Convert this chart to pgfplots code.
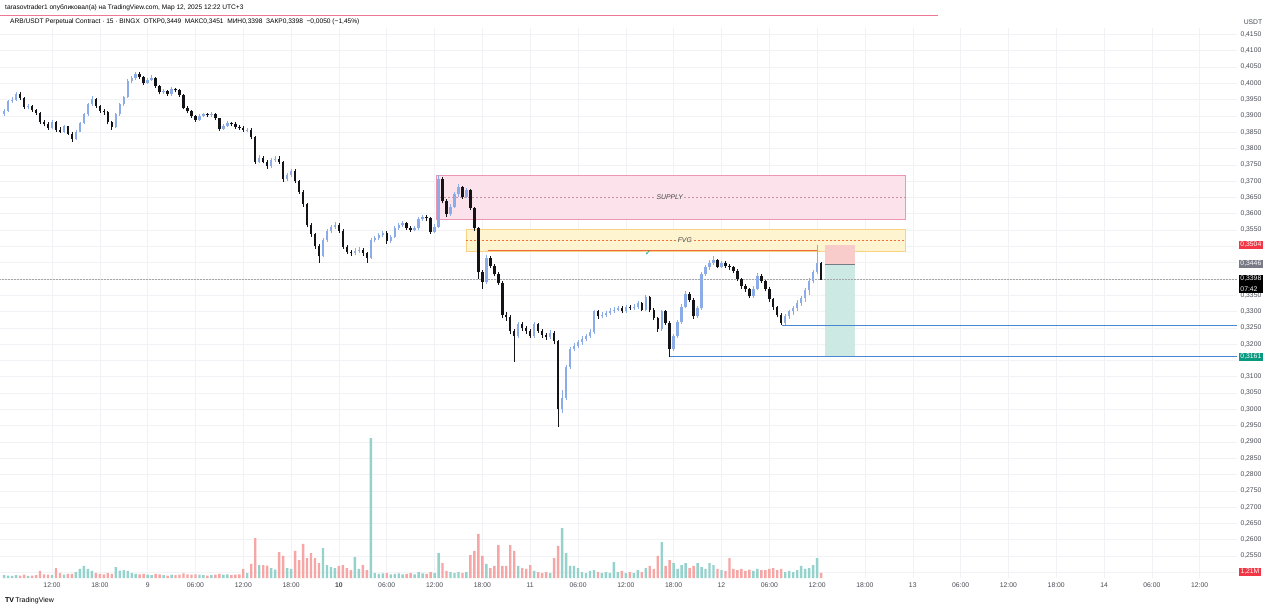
\documentclass[border=0pt]{standalone}
\usepackage{fontspec}
\setmainfont{Liberation Sans}
\newfontfamily\dejavu{DejaVu Sans}
\usepackage{pgfplots}
\usepackage{pgfplotstable}
\pgfplotsset{compat=1.18}

\definecolor{upc}{RGB}{140,172,232}
\definecolor{dnc}{RGB}{20,20,24}
\definecolor{volup}{RGB}{150,210,204}
\definecolor{voldn}{RGB}{246,166,165}
\definecolor{gridc}{RGB}{240,242,246}
\definecolor{labc}{RGB}{70,74,84}
\definecolor{supfill}{RGB}{252,226,235}
\definecolor{supedge}{RGB}{236,150,178}
\definecolor{fvgfill}{RGB}{255,244,208}
\definecolor{fvgedge}{RGB}{246,210,130}
\definecolor{fvgline}{RGB}{242,104,64}
\definecolor{shortred}{RGB}{249,204,204}
\definecolor{shortgrn}{RGB}{204,233,227}
\definecolor{bluel}{RGB}{70,135,210}
\definecolor{badred}{RGB}{242,54,69}
\definecolor{badgray}{RGB}{120,123,134}
\definecolor{badgrn}{RGB}{8,153,129}
\definecolor{hdrline}{RGB}{236,120,150}

\newcommand\tvf{\fontsize{6.8}{8}\selectfont}

% 30-min candles: time in hours from 8 Mar 00:00, open/high/low/close, volume (M)
\pgfplotstableread{
t o h l c v
6.0 0.3905 0.3922 0.3900 0.3915 0.7
6.5 0.3915 0.3950 0.3912 0.3945 0.6
7.0 0.3945 0.3958 0.3938 0.3950 0.5
7.5 0.3950 0.3974 0.3946 0.3968 0.7
8.0 0.3968 0.3972 0.3950 0.3955 0.6
8.5 0.3955 0.3958 0.3922 0.3928 0.8
9.0 0.3928 0.3936 0.3920 0.3930 0.5
9.5 0.3930 0.3934 0.3912 0.3918 0.6
10.0 0.3918 0.3922 0.3904 0.3910 0.7
10.5 0.3910 0.3913 0.3874 0.3880 1.7
11.0 0.3880 0.3886 0.3868 0.3875 0.9
11.5 0.3875 0.3880 0.3858 0.3863 0.8
12.0 0.3863 0.3886 0.3860 0.3880 0.7
12.5 0.3880 0.3884 0.3852 0.3858 2.4
13.0 0.3858 0.3866 0.3846 0.3852 1.2
13.5 0.3852 0.3872 0.3848 0.3868 0.8
14.0 0.3868 0.3870 0.3840 0.3845 1.0
14.5 0.3845 0.3850 0.3820 0.3828 1.0
15.0 0.3828 0.3856 0.3826 0.3852 1.4
15.5 0.3852 0.3882 0.3850 0.3878 2.2
16.0 0.3878 0.3910 0.3874 0.3905 2.9
16.5 0.3905 0.3940 0.3900 0.3935 2.2
17.0 0.3935 0.3960 0.3930 0.3952 1.7
17.5 0.3952 0.3955 0.3925 0.3930 1.2
18.0 0.3930 0.3934 0.3910 0.3915 1.0
18.5 0.3915 0.3920 0.3904 0.3912 0.9
19.0 0.3912 0.3915 0.3875 0.3880 1.2
19.5 0.3880 0.3884 0.3858 0.3866 1.0
20.0 0.3866 0.3910 0.3862 0.3905 2.6
20.5 0.3905 0.3940 0.3900 0.3935 1.8
21.0 0.3935 0.3962 0.3930 0.3958 1.9
21.5 0.3958 0.4012 0.3955 0.4008 1.7
22.0 0.4008 0.4022 0.4000 0.4015 1.2
22.5 0.4015 0.4036 0.4010 0.4030 1.0
23.0 0.4030 0.4034 0.4012 0.4018 0.9
23.5 0.4018 0.4022 0.3996 0.4002 1.0
24.0 0.4002 0.4016 0.3998 0.4010 0.8
24.5 0.4010 0.4024 0.4006 0.4016 0.7
25.0 0.4016 0.4018 0.3986 0.3992 1.0
25.5 0.3992 0.3996 0.3966 0.3972 0.9
26.0 0.3972 0.3982 0.3966 0.3975 0.7
26.5 0.3975 0.3980 0.3962 0.3968 0.6
27.0 0.3968 0.3988 0.3962 0.3982 0.8
27.5 0.3982 0.3986 0.3972 0.3978 0.7
28.0 0.3978 0.3982 0.3958 0.3965 0.8
28.5 0.3965 0.3968 0.3920 0.3925 1.1
29.0 0.3925 0.3930 0.3908 0.3914 0.9
29.5 0.3914 0.3918 0.3894 0.3900 0.8
30.0 0.3900 0.3904 0.3882 0.3888 0.9
30.5 0.3888 0.3906 0.3884 0.3900 0.8
31.0 0.3900 0.3910 0.3896 0.3905 0.7
31.5 0.3905 0.3910 0.3896 0.3902 0.6
32.0 0.3902 0.3912 0.3898 0.3906 0.7
32.5 0.3906 0.3910 0.3886 0.3892 0.8
33.0 0.3892 0.3895 0.3855 0.3860 1.0
33.5 0.3860 0.3876 0.3856 0.3870 0.8
34.0 0.3870 0.3884 0.3866 0.3878 0.9
34.5 0.3878 0.3882 0.3868 0.3875 0.7
35.0 0.3875 0.3880 0.3860 0.3866 0.8
35.5 0.3866 0.3872 0.3856 0.3862 0.9
36.0 0.3862 0.3868 0.3850 0.3857 2.2
36.5 0.3857 0.3864 0.3850 0.3858 1.2
37.0 0.3858 0.3862 0.3828 0.3835 3.4
37.5 0.3835 0.3838 0.3752 0.3760 9.6
38.0 0.3760 0.3780 0.3755 0.3772 3.1
38.5 0.3772 0.3778 0.3754 0.3760 3.1
39.0 0.3760 0.3766 0.3738 0.3745 3.0
39.5 0.3745 0.3770 0.3740 0.3765 2.4
40.0 0.3765 0.3776 0.3758 0.3768 2.0
40.5 0.3768 0.3778 0.3752 0.3758 6.2
41.0 0.3758 0.3762 0.3698 0.3705 5.3
41.5 0.3705 0.3724 0.3700 0.3718 2.4
42.0 0.3718 0.3738 0.3712 0.3732 2.2
42.5 0.3732 0.3736 0.3694 0.3700 6.5
43.0 0.3700 0.3704 0.3660 0.3668 4.3
43.5 0.3668 0.3672 0.3622 0.3630 8.2
44.0 0.3630 0.3634 0.3558 0.3565 4.8
44.5 0.3565 0.3570 0.3530 0.3538 6.0
45.0 0.3538 0.3542 0.3492 0.3500 4.8
45.5 0.3500 0.3506 0.3450 0.3470 3.6
46.0 0.3470 0.3524 0.3466 0.3518 7.2
46.5 0.3518 0.3554 0.3512 0.3548 3.1
47.0 0.3548 0.3566 0.3542 0.3560 2.6
47.5 0.3560 0.3574 0.3554 0.3566 2.4
48.0 0.3566 0.3570 0.3542 0.3548 2.9
48.5 0.3548 0.3552 0.3492 0.3498 3.1
49.0 0.3498 0.3504 0.3476 0.3484 2.4
49.5 0.3484 0.3490 0.3470 0.3478 1.9
50.0 0.3478 0.3494 0.3472 0.3486 5.0
50.5 0.3486 0.3498 0.3480 0.3490 2.2
51.0 0.3490 0.3494 0.3470 0.3478 3.1
51.5 0.3478 0.3482 0.3449 0.3465 1.9
52.0 0.3465 0.3524 0.3460 0.3518 33.6
52.5 0.3518 0.3532 0.3512 0.3526 1.2
53.0 0.3526 0.3542 0.3520 0.3535 1.0
53.5 0.3535 0.3548 0.3528 0.3542 1.1
54.0 0.3542 0.3546 0.3508 0.3515 1.2
54.5 0.3515 0.3536 0.3510 0.3530 0.9
55.0 0.3530 0.3562 0.3526 0.3556 1.0
55.5 0.3556 0.3572 0.3550 0.3565 1.1
56.0 0.3565 0.3578 0.3558 0.3572 0.9
56.5 0.3572 0.3576 0.3550 0.3556 1.0
57.0 0.3556 0.3562 0.3544 0.3550 1.2
57.5 0.3550 0.3562 0.3546 0.3555 0.9
58.0 0.3555 0.3590 0.3550 0.3585 1.4
58.5 0.3585 0.3596 0.3578 0.3590 1.1
59.0 0.3590 0.3596 0.3578 0.3586 1.0
59.5 0.3586 0.3590 0.3538 0.3545 1.4
60.0 0.3545 0.3568 0.3540 0.3560 1.2
60.5 0.3560 0.3719 0.3556 0.3705 6.0
61.0 0.3705 0.3712 0.3632 0.3640 3.6
61.5 0.3640 0.3645 0.3590 0.3598 1.7
62.0 0.3598 0.3630 0.3594 0.3622 1.4
62.5 0.3622 0.3666 0.3618 0.3660 1.2
63.0 0.3660 0.3690 0.3652 0.3682 1.4
63.5 0.3682 0.3686 0.3646 0.3652 1.2
64.0 0.3652 0.3680 0.3648 0.3672 1.4
64.5 0.3672 0.3676 0.3610 0.3618 5.5
65.0 0.3618 0.3622 0.3548 0.3555 6.5
65.5 0.3555 0.3560 0.3400 0.3420 10.6
66.0 0.3420 0.3428 0.3370 0.3390 5.3
66.5 0.3390 0.3472 0.3384 0.3465 3.4
67.0 0.3465 0.3470 0.3432 0.3440 2.4
67.5 0.3440 0.3446 0.3408 0.3415 2.9
68.0 0.3415 0.3420 0.3380 0.3388 7.9
68.5 0.3388 0.3392 0.3280 0.3290 2.9
69.0 0.3290 0.3298 0.3272 0.3282 2.9
69.5 0.3282 0.3288 0.3230 0.3240 7.9
70.0 0.3240 0.3246 0.3145 0.3225 6.5
70.5 0.3225 0.3268 0.3218 0.3262 2.9
71.0 0.3262 0.3268 0.3240 0.3248 2.4
71.5 0.3248 0.3254 0.3232 0.3240 2.2
72.0 0.3240 0.3246 0.3218 0.3225 3.1
72.5 0.3225 0.3268 0.3220 0.3262 1.7
73.0 0.3262 0.3266 0.3234 0.3240 1.4
73.5 0.3240 0.3246 0.3220 0.3228 1.2
74.0 0.3228 0.3234 0.3214 0.3222 1.4
74.5 0.3222 0.3242 0.3216 0.3235 1.2
75.0 0.3235 0.3240 0.3200 0.3210 4.8
75.5 0.3210 0.3214 0.2946 0.3000 7.7
76.0 0.3000 0.3060 0.2990 0.3035 12.0
76.5 0.3035 0.3136 0.3028 0.3130 6.0
77.0 0.3130 0.3192 0.3124 0.3185 2.9
77.5 0.3185 0.3202 0.3178 0.3195 2.9
78.0 0.3195 0.3212 0.3188 0.3205 2.4
78.5 0.3205 0.3224 0.3198 0.3215 1.4
79.0 0.3215 0.3232 0.3208 0.3225 1.2
79.5 0.3225 0.3246 0.3218 0.3238 1.7
80.0 0.3238 0.3306 0.3232 0.3300 1.9
80.5 0.3300 0.3304 0.3278 0.3285 1.4
81.0 0.3285 0.3298 0.3280 0.3290 1.2
81.5 0.3290 0.3302 0.3284 0.3296 1.4
82.0 0.3296 0.3310 0.3290 0.3302 1.2
82.5 0.3302 0.3314 0.3296 0.3306 3.8
83.0 0.3306 0.3318 0.3300 0.3310 1.4
83.5 0.3310 0.3316 0.3294 0.3300 1.7
84.0 0.3300 0.3320 0.3296 0.3314 1.2
84.5 0.3314 0.3320 0.3304 0.3310 1.4
85.0 0.3310 0.3322 0.3306 0.3315 1.2
85.5 0.3315 0.3332 0.3308 0.3325 1.9
86.0 0.3325 0.3330 0.3300 0.3306 1.4
86.5 0.3306 0.3352 0.3302 0.3345 2.4
87.0 0.3345 0.3348 0.3298 0.3305 2.9
87.5 0.3305 0.3310 0.3274 0.3280 2.2
88.0 0.3280 0.3284 0.3238 0.3245 5.3
88.5 0.3245 0.3306 0.3240 0.3300 8.6
89.0 0.3300 0.3304 0.3258 0.3265 2.9
89.5 0.3265 0.3270 0.3161 0.3185 4.3
90.0 0.3185 0.3232 0.3178 0.3225 3.6
90.5 0.3225 0.3274 0.3220 0.3268 2.2
91.0 0.3268 0.3322 0.3262 0.3315 3.1
91.5 0.3315 0.3362 0.3310 0.3355 3.6
92.0 0.3355 0.3360 0.3328 0.3336 2.4
92.5 0.3336 0.3340 0.3278 0.3285 2.9
93.0 0.3285 0.3318 0.3280 0.3310 3.6
93.5 0.3310 0.3420 0.3306 0.3415 2.6
94.0 0.3415 0.3442 0.3410 0.3435 2.2
94.5 0.3435 0.3458 0.3428 0.3450 3.6
95.0 0.3450 0.3470 0.3444 0.3458 3.1
95.5 0.3458 0.3462 0.3432 0.3438 2.2
96.0 0.3438 0.3456 0.3432 0.3450 1.9
96.5 0.3450 0.3456 0.3434 0.3440 1.7
97.0 0.3440 0.3446 0.3428 0.3436 4.8
97.5 0.3436 0.3440 0.3418 0.3425 2.2
98.0 0.3425 0.3430 0.3394 0.3400 1.9
98.5 0.3400 0.3404 0.3370 0.3378 2.2
99.0 0.3378 0.3384 0.3360 0.3368 1.7
99.5 0.3368 0.3372 0.3340 0.3346 2.0
100.0 0.3346 0.3378 0.3342 0.3370 1.7
100.5 0.3370 0.3418 0.3366 0.3410 2.2
101.0 0.3410 0.3414 0.3386 0.3392 1.9
101.5 0.3392 0.3396 0.3362 0.3370 1.9
102.0 0.3370 0.3374 0.3330 0.3338 2.2
102.5 0.3338 0.3342 0.3306 0.3314 2.4
103.0 0.3314 0.3318 0.3282 0.3290 1.9
103.5 0.3290 0.3294 0.3258 0.3266 2.2
104.0 0.3266 0.3292 0.3260 0.3285 1.4
104.5 0.3285 0.3306 0.3278 0.3300 1.7
105.0 0.3300 0.3318 0.3290 0.3310 1.4
105.5 0.3310 0.3334 0.3300 0.3326 1.9
106.0 0.3326 0.3348 0.3318 0.3340 2.9
106.5 0.3340 0.3372 0.3330 0.3365 2.2
107.0 0.3365 0.3402 0.3352 0.3395 2.4
107.5 0.3395 0.3428 0.3388 0.3420 3.1
108.0 0.3420 0.3504 0.3414 0.3449 4.8
108.5 0.3449 0.3451 0.3398 0.3398 1.21
}\candles

\pgfplotsset{tvbase/.style={
  scale only axis, width=1237pt, height=550pt,
  at={(0pt,33pt)}, anchor=south west,
  xmin=5.475, xmax=160.68}}

\begin{document}
\begin{tikzpicture}
\fill[white] (0pt,0pt) rectangle (1280pt,611pt);
\path[use as bounding box] (0pt,0pt) rectangle (1280pt,611pt);

% header
\draw[hdrline, line width=0.8pt] (0pt,596pt) -- (938pt,596pt);
\node[anchor=west, inner sep=0pt, text=black] at (5pt,603pt)
  {\fontsize{6.6}{8}\selectfont tarasovtrader1 опубликовал(а) на TradingView.com, Мар 12, 2025 12:22 UTC+3};
\node[anchor=west, inner sep=0pt, text=black] at (10pt,589pt)
  {\fontsize{6.6}{8}\selectfont ARB/USDT Perpetual Contract · 15 · BINGX\ \ ОТКР0,3449\ \ МАКС0,3451\ \ МИН0,3398\ \ ЗАКР0,3398\ \ −0,0050 (−1,45\%)};
\node[text=labc, inner sep=0pt] at (1253pt,589pt) {\tvf USDT};

\begin{axis}[tvbase,
  ymin=0.24825, ymax=0.41696,
  clip=false,
  axis line style={draw=none},
  tick style={draw=none},
  grid=major, grid style={gridc, line width=0.5pt},
  xtick={12,18,24,30,36,42,48,54,60,66,72,78,84,90,96,102,108,114,120,126,132,138,144,150,156},
  xticklabels={12:00,18:00,9,06:00,12:00,18:00,\textbf{10},06:00,12:00,18:00,11,06:00,12:00,18:00,12,06:00,12:00,18:00,13,06:00,12:00,18:00,14,06:00,12:00},
  ytick={0.2550,0.2600,0.2650,0.2700,0.2750,0.2800,0.2850,0.2900,0.2950,0.3000,0.3050,0.3100,0.3200,0.3250,0.3300,0.3350,0.3550,0.3600,0.3650,0.3700,0.3750,0.3800,0.3850,0.3900,0.3950,0.4000,0.4050,0.4100,0.4150},
  extra y ticks={0.2500,0.3150,0.3400,0.3450,0.3500},
  extra y tick labels={},
  extra y tick style={grid=major},
  yticklabel pos=right,
  scaled y ticks=false,
  yticklabel style={/pgf/number format/.cd, fixed, fixed zerofill, precision=4, use comma, assume math mode=true},
  every tick label/.append style={font=\tvf, text=labc},
  xticklabel style={yshift=-1pt},
]
% zones
\fill[supfill] (axis cs:60.2,0.3584) rectangle (axis cs:119.0,0.3719);
\draw[supedge, line width=0.5pt] (axis cs:60.2,0.3584) rectangle (axis cs:119.0,0.3719);
\draw[supedge!70!gray, dash pattern=on 2pt off 2pt, line width=0.5pt] (axis cs:60.2,0.3651) -- (axis cs:119.0,0.3651);
\node[fill=supfill, inner sep=1.5pt, text=black!75] at (axis cs:89.5,0.3651) {\tvf\itshape SUPPLY};
\fill[fvgfill] (axis cs:64.0,0.3486) rectangle (axis cs:119.0,0.3553);
\draw[fvgedge, line width=0.5pt] (axis cs:64.0,0.3486) rectangle (axis cs:119.0,0.3553);
\draw[fvgline!80!orange, dash pattern=on 2pt off 2pt, line width=0.5pt] (axis cs:64.0,0.3519) -- (axis cs:119.0,0.3519);
\node[fill=fvgfill, inner sep=1.5pt, text=black!75] at (axis cs:91.4,0.3519) {\tvf\itshape FVG};
\draw[fvgline, line width=1pt] (axis cs:66.7,0.3486) -- (axis cs:108.0,0.3486);
\node[text=badgrn, inner sep=0pt] at (axis cs:86.8,0.3480) {\dejavu\fontsize{8}{9}\selectfont ✓};
% short position box
\fill[shortred] (axis cs:109.0,0.3446) rectangle (axis cs:112.75,0.3504);
\fill[shortgrn] (axis cs:109.0,0.3161) rectangle (axis cs:112.75,0.3446);
\draw[badgray, line width=0.5pt] (axis cs:109.0,0.3446) -- (axis cs:112.75,0.3446);
% levels
\draw[bluel, line width=0.8pt] (axis cs:103.6,0.3258) -- (axis cs:160.68,0.3258);
\draw[bluel, line width=0.8pt] (axis cs:89.5,0.3161) -- (axis cs:160.68,0.3161);
\draw[gray!70, densely dotted, line width=0.5pt] (axis cs:5.475,0.3398) -- (axis cs:160.68,0.3398);

% wicks
\addplot[draw=none, mark=none, forget plot,
  error bars/.cd, y dir=plus, y explicit, error mark=none,
  error bar style={draw=upc, line width=0.6pt}]
  table[x=t, y expr={\thisrow{c}>=\thisrow{o} ? \thisrow{l} : nan},
        y error plus expr={\thisrow{h}-\thisrow{l}}] {\candles};
\addplot[draw=none, mark=none, forget plot,
  error bars/.cd, y dir=plus, y explicit, error mark=none,
  error bar style={draw=dnc, line width=0.6pt}]
  table[x=t, y expr={\thisrow{c}<\thisrow{o} ? \thisrow{l} : nan},
        y error plus expr={\thisrow{h}-\thisrow{l}}] {\candles};
% bodies
\addplot[draw=none, mark=none, forget plot,
  error bars/.cd, y dir=plus, y explicit, error mark=none,
  error bar style={draw=upc, line width=2.4pt}]
  table[x=t, y expr={\thisrow{c}>=\thisrow{o} ? \thisrow{o} : nan},
        y error plus expr={\thisrow{c}-\thisrow{o}}] {\candles};
\addplot[draw=none, mark=none, forget plot,
  error bars/.cd, y dir=plus, y explicit, error mark=none,
  error bar style={draw=dnc, line width=2.4pt}]
  table[x=t, y expr={\thisrow{c}<\thisrow{o} ? \thisrow{c} : nan},
        y error plus expr={\thisrow{o}-\thisrow{c}}] {\candles};

\coordinate (b1) at (axis cs:160.68,0.3504);
\coordinate (b2) at (axis cs:160.68,0.3446);
\coordinate (b3) at (axis cs:160.68,0.3413);
\coordinate (b4) at (axis cs:160.68,0.3161);
\end{axis}

% volume overlay
\begin{axis}[tvbase, ymin=0, ymax=132, hide axis, clip=false]
\addplot[ybar, bar width=2.4pt, bar shift=0pt, fill=volup, draw=none, forget plot]
  table[x=t, y expr={\thisrow{c}>=\thisrow{o} ? \thisrow{v} : nan}] {\candles};
\addplot[ybar, bar width=2.4pt, bar shift=0pt, fill=voldn, draw=none, forget plot]
  table[x=t, y expr={\thisrow{c}<\thisrow{o} ? \thisrow{v} : nan}] {\candles};
\end{axis}

% price badges
\node[anchor=west, fill=badred, text=white, inner sep=1.3pt] at ([xshift=2pt]b1) {\tvf 0,3504};
\node[anchor=west, fill=badgray, text=white, inner sep=1.3pt] at ([xshift=2pt]b2) {\tvf 0,3446};
\node[anchor=north west, fill=black, text=white, inner sep=1.3pt, align=left] at ([xshift=2pt]b3) {\tvf 0,3398\\[-1pt]\tvf 07:42};
\node[anchor=west, fill=badgrn, text=white, inner sep=1.3pt] at ([xshift=2pt]b4) {\tvf 0,3161};
\node[anchor=west, fill=badred, text=white, inner sep=1.3pt] at (1239pt,39pt) {\tvf 1,21M};

% logo
\node[anchor=west, inner sep=0pt] at (5pt,10pt) {\fontsize{7}{8}\selectfont\textbf{TV}\,TradingView};
\end{tikzpicture}
\end{document}
